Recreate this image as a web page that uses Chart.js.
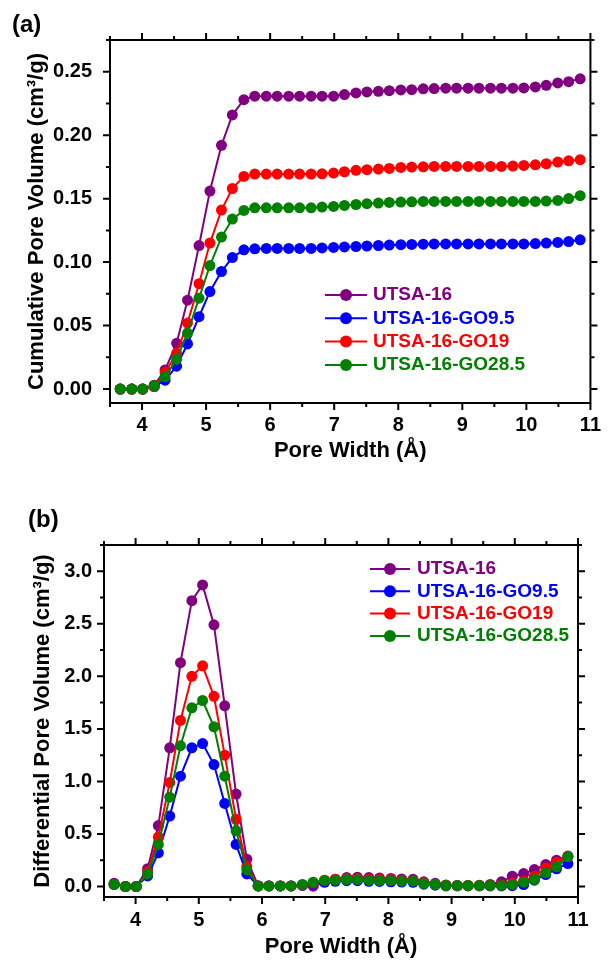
<!DOCTYPE html>
<html>
<head>
<meta charset="utf-8">
<script src="https://cdn.jsdelivr.net/npm/chart.js@4.4.0/dist/chart.umd.min.js"></script>
<style>
  body { margin: 0; background: #fff; }
  #wrap { position: relative; width: 611px; height: 962px; }
  canvas { position: absolute; left: 0; }
  .panel { position: absolute; font: bold 24px "Liberation Sans", Arial, sans-serif; color: #000; }
</style>
</head>
<body>
<div id="wrap">
  <canvas id="cumChart" width="611" height="470" style="top:0"></canvas>
  <canvas id="diffChart" width="611" height="492" style="top:470px"></canvas>
  <div class="panel" style="left:12px; top:10px">(a)</div>
  <div class="panel" style="left:28px; top:505px">(b)</div>
</div>
<script>
// pore width (Å), shared by all series
const poreWidth = [3.66, 3.84, 4.01, 4.19, 4.36, 4.54, 4.71, 4.89, 5.06, 5.24, 5.41, 5.59, 5.76, 5.94,
  6.11, 6.29, 6.46, 6.64, 6.81, 6.99, 7.16, 7.34, 7.51, 7.69, 7.86, 8.04, 8.21, 8.39, 8.56, 8.74,
  8.91, 9.09, 9.26, 9.44, 9.61, 9.79, 9.96, 10.14, 10.31, 10.49, 10.66, 10.84];

const seriesNames = ['UTSA-16', 'UTSA-16-GO9.5', 'UTSA-16-GO19', 'UTSA-16-GO28.5'];
const seriesColors = ['#800080', '#0000ff', '#ff0000', '#008000'];

// (a) cumulative pore volume, cm3/g
const cumUTSA16 = [0.000, 0.000, 0.000, 0.003, 0.015, 0.036, 0.070, 0.113, 0.156, 0.192, 0.216, 0.228,
  0.2307, 0.2307, 0.2307, 0.2307, 0.2307, 0.2307, 0.2307, 0.2307, 0.2320, 0.2333, 0.2341, 0.2346,
  0.2351, 0.2357, 0.2359, 0.2365, 0.2367, 0.2370, 0.2370, 0.2370, 0.2370, 0.2370, 0.2370, 0.2370,
  0.2372, 0.2380, 0.2393, 0.2412, 0.2422, 0.2444];
const cumGO95 = [0.000, 0.000, 0.000, 0.002, 0.007, 0.018, 0.0355, 0.057, 0.0768, 0.0926, 0.1036, 0.1097,
  0.1105, 0.1108, 0.1108, 0.1108, 0.1108, 0.1108, 0.1112, 0.1116, 0.1120, 0.1123, 0.1127, 0.1131,
  0.1134, 0.1137, 0.1139, 0.1141, 0.1143, 0.1143, 0.1143, 0.1143, 0.1143, 0.1143, 0.1143, 0.1143,
  0.1143, 0.1146, 0.1150, 0.1155, 0.1162, 0.1176];
const cumGO19 = [0.000, 0.000, 0.000, 0.002, 0.013, 0.028, 0.052, 0.083, 0.115, 0.141, 0.158, 0.1675,
  0.1694, 0.1694, 0.1694, 0.1694, 0.1694, 0.1694, 0.1696, 0.1702, 0.1712, 0.1723, 0.1728, 0.1733,
  0.1738, 0.1746, 0.1749, 0.1751, 0.1754, 0.1754, 0.1754, 0.1754, 0.1754, 0.1754, 0.1754, 0.1757,
  0.1762, 0.1767, 0.1775, 0.1788, 0.1798, 0.1807];
const cumGO285 = [0.000, 0.000, 0.000, 0.0026, 0.0097, 0.0234, 0.044, 0.0716, 0.0973, 0.1197, 0.1339, 0.1407,
  0.1428, 0.1428, 0.1428, 0.1428, 0.1428, 0.1428, 0.1434, 0.1439, 0.1447, 0.1454, 0.1460, 0.1465,
  0.1470, 0.1473, 0.1475, 0.1478, 0.1478, 0.1478, 0.1478, 0.1478, 0.1478, 0.1478, 0.1478, 0.1478,
  0.1478, 0.1478, 0.1481, 0.1486, 0.1501, 0.1523];

// (b) differential pore volume, cm3/g
const diffUTSA16 = [0.03, 0.00, 0.00, 0.17, 0.58, 1.32, 2.13, 2.72, 2.87, 2.49, 1.72, 0.88, 0.26, 0.005,
  0.005, 0.005, 0.005, 0.01, 0.003, 0.04, 0.07, 0.085, 0.088, 0.085, 0.08, 0.077, 0.072, 0.068,
  0.045, 0.03, 0.015, 0.01, 0.01, 0.012, 0.02, 0.045, 0.098, 0.123, 0.161, 0.209, 0.25, 0.29];
const diffGO95 = [0.02, 0.00, 0.00, 0.10, 0.32, 0.67, 1.05, 1.32, 1.36, 1.16, 0.79, 0.40, 0.12, 0.005,
  0.005, 0.005, 0.005, 0.012, 0.03, 0.045, 0.05, 0.055, 0.055, 0.05, 0.048, 0.045, 0.042, 0.04,
  0.022, 0.012, 0.005, 0.005, 0.005, 0.005, 0.005, 0.005, 0.008, 0.019, 0.06, 0.114, 0.168, 0.218];
const diffGO19 = [0.02, 0.00, 0.00, 0.14, 0.47, 0.99, 1.58, 2.00, 2.10, 1.81, 1.25, 0.64, 0.19, 0.005,
  0.005, 0.005, 0.005, 0.015, 0.035, 0.06, 0.07, 0.075, 0.075, 0.07, 0.068, 0.065, 0.06, 0.055,
  0.035, 0.02, 0.01, 0.009, 0.009, 0.009, 0.009, 0.015, 0.03, 0.05, 0.098, 0.177, 0.23, 0.285];
const diffGO285 = [0.02, 0.00, 0.00, 0.12, 0.40, 0.85, 1.34, 1.70, 1.77, 1.52, 1.05, 0.53, 0.16, 0.005,
  0.005, 0.005, 0.005, 0.019, 0.041, 0.057, 0.060, 0.066, 0.066, 0.060, 0.057, 0.057, 0.051, 0.051,
  0.028, 0.019, 0.009, 0.009, 0.009, 0.009, 0.009, 0.009, 0.019, 0.041, 0.066, 0.130, 0.187, 0.282];

const xTicks = [4, 5, 6, 7, 8, 9, 10, 11];
const cumYTicks = [0.00, 0.05, 0.10, 0.15, 0.20, 0.25];
const diffYTicks = [0.0, 0.5, 1.0, 1.5, 2.0, 2.5, 3.0];

const FONT = '"Liberation Sans", Arial, sans-serif';

function midpoints(list, min, max) {
  const step = list[1] - list[0];
  const out = [];
  for (let i = -1; i < list.length; i++) {
    const v = list[0] + (i + 0.5) * step;
    if (v >= min - 1e-9 && v <= max + 1e-9) out.push(v);
  }
  return out;
}

// box round the plot, with major and minor ticks pointing outwards on all four sides
const frameTicks = {
  id: 'frameTicks',
  afterDraw(chart) {
    const { ctx, chartArea: a, scales: { x, y } } = chart;
    const xs = x.ticks.map(t => t.value), ys = y.ticks.map(t => t.value);
    const xm = midpoints(xs, x.min, x.max), ym = midpoints(ys, y.min, y.max);
    ctx.save();
    ctx.strokeStyle = '#000';
    ctx.lineWidth = 2;
    ctx.strokeRect(a.left, a.top, a.right - a.left, a.bottom - a.top);
    const vTicks = (vals, len) => vals.forEach(v => {
      const p = x.getPixelForValue(v);
      ctx.moveTo(p, a.bottom); ctx.lineTo(p, a.bottom + len);
      ctx.moveTo(p, a.top); ctx.lineTo(p, a.top - len);
    });
    const hTicks = (vals, len) => vals.forEach(v => {
      const p = y.getPixelForValue(v);
      ctx.moveTo(a.left, p); ctx.lineTo(a.left - len, p);
      ctx.moveTo(a.right, p); ctx.lineTo(a.right + len, p);
    });
    ctx.beginPath();
    vTicks(xs, 7); hTicks(ys, 7);
    vTicks(xm, 4); hTicks(ym, 4);
    ctx.stroke();
    ctx.restore();
  }
};

// legend drawn inside the plot
const insideLegend = {
  id: 'insideLegend',
  afterDatasetsDraw(chart, args, opts) {
    const ctx = chart.ctx;
    ctx.save();
    ctx.font = 'bold 19px ' + FONT;
    ctx.textBaseline = 'middle';
    chart.data.datasets.forEach((ds, i) => {
      const y = opts.y + i * opts.gap;
      ctx.strokeStyle = ds.borderColor;
      ctx.fillStyle = ds.borderColor;
      ctx.lineWidth = 2;
      ctx.beginPath();
      ctx.moveTo(opts.x, y);
      ctx.lineTo(opts.x + opts.len, y);
      ctx.stroke();
      ctx.beginPath();
      ctx.arc(opts.x + opts.len / 2, y, 6, 0, Math.PI * 2);
      ctx.fill();
      ctx.fillText(ds.label, opts.x + opts.len + opts.textGap, y);
    });
    ctx.restore();
  }
};

function drawPoreChart(id, series, s) {
  const datasets = series.map((vals, i) => ({
    label: seriesNames[i],
    data: vals.map((v, j) => ({ x: poreWidth[j], y: v })),
    borderColor: seriesColors[i],
    backgroundColor: seriesColors[i],
    borderWidth: 2,
    pointRadius: 5.5,
    pointBorderWidth: 0,
    tension: 0,
    order: series.length - 1 - i
  }));
  const config = {
    type: 'line',
    data: { datasets: datasets },
    plugins: [frameTicks, insideLegend],
    options: {
      responsive: false,
      animation: false,
      devicePixelRatio: 1,
      layout: { padding: { top: s.top, right: s.right, bottom: 0, left: 0 } },
      plugins: {
        legend: { display: false },
        tooltip: { enabled: false },
        insideLegend: s.legend
      },
      scales: {
        x: {
          type: 'linear',
          min: 3.5,
          max: 11,
          afterBuildTicks: sc => { sc.ticks = xTicks.map(v => ({ value: v })); },
          afterFit: sc => { sc.height = s.xHeight; },
          grid: { display: false, drawTicks: false },
          border: { display: false },
          ticks: { color: '#000', padding: s.xPad, maxRotation: 0, font: { family: FONT, size: 20, weight: 'bold' } },
          title: {
            display: true,
            text: 'Pore Width (Å)',
            color: '#000',
            padding: { top: 0, bottom: s.xTitlePad },
            font: { family: FONT, size: 22, weight: 'bold' }
          }
        },
        y: {
          min: s.yMin,
          max: s.yMax,
          afterBuildTicks: sc => { sc.ticks = s.yTicks.map(v => ({ value: v })); },
          afterFit: sc => { sc.width = s.yWidth; },
          grid: { display: false, drawTicks: false },
          border: { display: false },
          ticks: {
            color: '#000',
            padding: s.yPad,
            font: { family: FONT, size: 20, weight: 'bold' },
            callback: v => v.toFixed(s.digits)
          },
          title: {
            display: true,
            text: s.yTitle,
            color: '#000',
            padding: { top: s.yTitlePad, bottom: 0 },
            font: { family: FONT, size: 22, weight: 'bold' }
          }
        }
      }
    }
  };
  return new Chart(document.getElementById(id), config);
}

drawPoreChart('cumChart', [cumUTSA16, cumGO95, cumGO19, cumGO285], {
  top: 40, right: 14, xHeight: 67, yWidth: 110,
  yMin: -0.011, yMax: 0.275, yTicks: cumYTicks, digits: 2,
  xPad: 10, yPad: 18, xTitlePad: 6, yTitlePad: 24,
  yTitle: 'Cumulative Pore Volume (cm³/g)',
  legend: { x: 325, y: 295, gap: 23.3, len: 42, textGap: 6 }
});

drawPoreChart('diffChart', [diffUTSA16, diffGO95, diffGO19, diffGO285], {
  top: 75, right: 33, xHeight: 65, yWidth: 104,
  yMin: -0.1, yMax: 3.25, yTicks: diffYTicks, digits: 1,
  xPad: 11, yPad: 12, xTitlePad: 2, yTitlePad: 30,
  yTitle: 'Differential Pore Volume (cm³/g)',
  legend: { x: 370, y: 99, gap: 22.3, len: 40, textGap: 7 }
});
</script>
</body>
</html>
